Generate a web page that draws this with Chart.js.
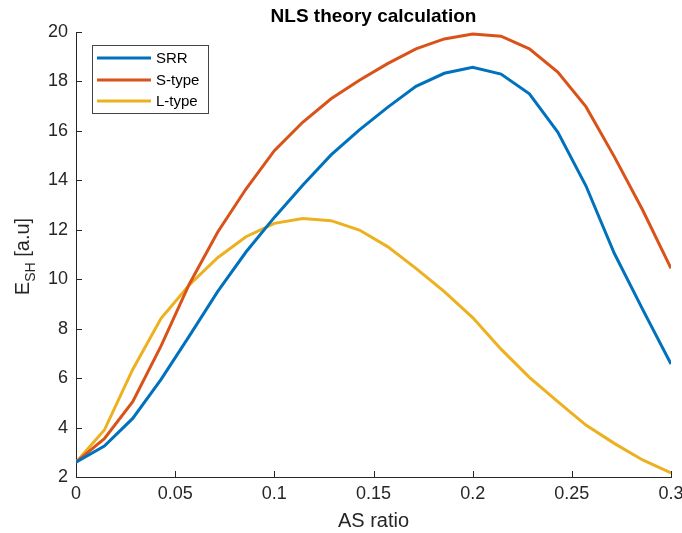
<!DOCTYPE html>
<html><head><meta charset="utf-8">
<script src="https://cdn.jsdelivr.net/npm/chart.js@4/dist/chart.umd.min.js"></script>
<style>html,body{margin:0;padding:0;background:#fff}#wrap{width:682px;height:533px;position:relative}</style>
</head><body><div id="wrap"><canvas id="c"></canvas></div>
<script>
const asRatio = [0, 0.0143, 0.0286, 0.0429, 0.0571, 0.0714, 0.0857, 0.1, 0.1143, 0.1286, 0.1429, 0.1571, 0.1714, 0.1857, 0.2, 0.2143, 0.2286, 0.2429, 0.2571, 0.2714, 0.2857, 0.3];
const srr   = [2.6, 3.25, 4.37, 5.95, 7.7, 9.5, 11.1, 12.5, 13.8, 15.03, 16.04, 16.95, 17.8, 18.33, 18.57, 18.3, 17.5, 15.95, 13.78, 11.05, 8.78, 6.57];
const sType = [2.6, 3.55, 5.05, 7.3, 9.8, 11.9, 13.65, 15.2, 16.35, 17.3, 18.05, 18.72, 19.32, 19.72, 19.92, 19.83, 19.32, 18.38, 16.98, 14.96, 12.8, 10.44];
const lType = [2.6, 3.9, 6.35, 8.42, 9.77, 10.87, 11.72, 12.26, 12.46, 12.37, 11.99, 11.32, 10.44, 9.5, 8.45, 7.17, 6.03, 5.05, 4.1, 3.36, 2.69, 2.17];
const seriesNames = ['SRR', 'S-type', 'L-type'];
const xTicks = [0, 0.05, 0.1, 0.15, 0.2, 0.25, 0.3];
const yTicks = [2, 4, 6, 8, 10, 12, 14, 16, 18, 20];
const titleText = 'NLS theory calculation';
const xLabel = 'AS ratio';

const colors = ['#0072BD', '#D95319', '#EDB120'];
const FONT = '"Liberation Sans", Arial, Helvetica, sans-serif';
const TXT = '#262626';

function pts(ys){ return asRatio.map((x,i)=>({x:x, y:ys[i]})); }

const decor = {
  id: 'decor',
  afterDraw(chart){
    const ctx = chart.ctx, a = chart.chartArea;
    const xs = chart.scales.x, ys = chart.scales.y;
    ctx.save();
    ctx.strokeStyle = TXT; ctx.lineWidth = 1;
    ctx.beginPath();
    xTicks.forEach(v=>{ const px = Math.round(xs.getPixelForValue(v))+0.5; ctx.moveTo(px, a.bottom); ctx.lineTo(px, a.bottom-6); });
    yTicks.forEach(v=>{ const py = Math.round(ys.getPixelForValue(v))+0.5; ctx.moveTo(a.left, py); ctx.lineTo(a.left+6, py); });
    ctx.stroke();
    ctx.fillStyle = '#000';
    ctx.font = 'bold 19px ' + FONT;
    ctx.textAlign = 'center'; ctx.textBaseline = 'middle';
    ctx.fillText(titleText, (a.left+a.right)/2, 17);
    ctx.fillStyle = TXT;
    ctx.font = '20px ' + FONT;
    ctx.fillText(xLabel, (a.left+a.right)/2, 521);
    ctx.translate(22, (a.top+a.bottom)/2 + 2);
    ctx.rotate(-Math.PI/2);
    ctx.textAlign = 'left'; ctx.textBaseline = 'alphabetic';
    const f1 = '20px ' + FONT, f2 = '14px ' + FONT;
    ctx.font = f1; const wE = ctx.measureText('E').width; const wR = ctx.measureText(' [a.u]').width;
    ctx.font = f2; const wS = ctx.measureText('SH').width;
    let x0 = -(wE+wS+wR)/2;
    ctx.font = f1; ctx.fillText('E', x0, 7);
    ctx.font = f2; ctx.fillText('SH', x0+wE, 13);
    ctx.font = f1; ctx.fillText(' [a.u]', x0+wE+wS, 7);
    ctx.restore();
    ctx.save();
    ctx.fillStyle = '#fff'; ctx.strokeStyle = '#444'; ctx.lineWidth = 1;
    ctx.fillRect(92.5, 45.5, 116, 68); ctx.strokeRect(92.5, 45.5, 116, 68);
    const rows = [58, 80, 101];
    ctx.font = '15px ' + FONT; ctx.textAlign='left'; ctx.textBaseline='middle';
    chart.data.datasets.forEach((d,i)=>{
      ctx.strokeStyle = d.borderColor; ctx.lineWidth = 3;
      ctx.beginPath(); ctx.moveTo(97, rows[i]); ctx.lineTo(151, rows[i]); ctx.stroke();
      ctx.fillStyle = '#000'; ctx.fillText(d.label, 156, rows[i]+1);
    });
    ctx.restore();
  }
};

new Chart(document.getElementById('c'), {
  type: 'line',
  data: {
    datasets: [srr, sType, lType].map((s,i)=>({
      label: seriesNames[i], data: pts(s), borderColor: colors[i], backgroundColor: colors[i],
      borderWidth: 3, pointRadius: 0, tension: 0, fill: false
    }))
  },
  options: {
    responsive: true, maintainAspectRatio: false, animation: false,
    layout: { padding: { left: 0, right: 11, top: 32, bottom: 0 } },
    plugins: { legend: { display: false }, title: { display: false }, tooltip: { enabled: false } },
    scales: {
      x: {
        type: 'linear', min: 0, max: 0.3,
        afterFit(s){ s.height = 56; s.paddingLeft = 0; s.paddingRight = 0; },
        afterBuildTicks(s){ s.ticks = xTicks.map(v=>({value:v})); },
        ticks: { padding: 6, color: TXT, font: { family: FONT, size: 18 }, maxRotation: 0, autoSkip: false,
                 callback: v => String(+v.toFixed(2)) },
        grid: { display: true, drawOnChartArea: false, drawTicks: false },
        border: { display: true, color: TXT, width: 1 }
      },
      y: {
        type: 'linear', min: 2, max: 20,
        afterFit(s){ s.width = 76; s.paddingTop = 0; s.paddingBottom = 0; },
        afterBuildTicks(s){ s.ticks = yTicks.map(v=>({value:v})); },
        ticks: { padding: 8, color: TXT, font: { family: FONT, size: 18 }, autoSkip: false,
                 callback: v => String(v) },
        grid: { display: true, drawOnChartArea: false, drawTicks: false },
        border: { display: true, color: TXT, width: 1 }
      }
    }
  },
  plugins: [decor]
});
</script></body></html>
